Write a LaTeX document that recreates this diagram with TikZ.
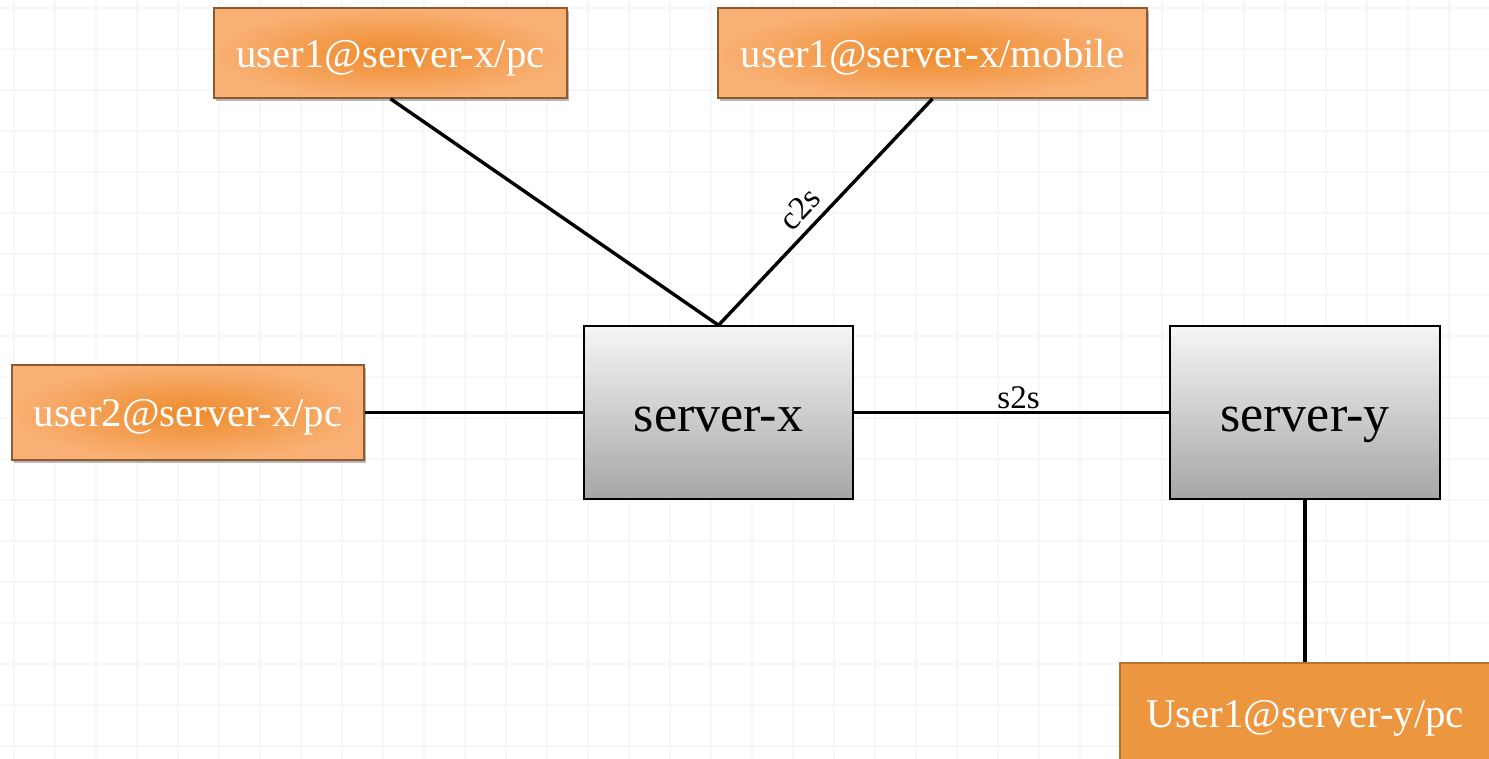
\documentclass[tikz,border=0pt]{standalone}
\usepackage{fontspec}
\setmainfont{Liberation Serif}
\usetikzlibrary{shadows}
\definecolor{gridc}{HTML}{F7F7F7}
\definecolor{orin}{HTML}{EE8B2C}
\definecolor{orout}{HTML}{F9B074}
\definecolor{orborder}{HTML}{8E5A2E}
\definecolor{orsolid}{HTML}{EC963F}
\definecolor{orsolidb}{HTML}{B8722F}
\definecolor{srvtop}{HTML}{F6F6F6}
\definecolor{srvbot}{HTML}{A6A6A6}
\tikzset{
  userbox/.style={draw=orborder, line width=1.6pt, inner sep=0pt,
    inner color=orin, outer color=orout, text=white,
    font=\fontsize{40.8}{48}\selectfont, text depth=0pt,
    drop shadow={shadow xshift=2pt, shadow yshift=-3pt, opacity=0.35, fill=black!80}},
  usersolid/.style={draw=orsolidb, line width=2.5pt, inner sep=0pt,
    fill=orsolid, text=white, font=\fontsize{40.8}{48}\selectfont, text depth=0pt},
  srvbox/.style={draw=black, line width=1.5pt, inner sep=0pt,
    top color=srvtop, bottom color=srvbot, text=black,
    font=\fontsize{52}{60}\selectfont, text height=38pt, text depth=0pt},
  link/.style={draw=black, line width=3.4pt},
  lbl/.style={font=\fontsize{33}{40}\selectfont, text=black, inner sep=4pt}
}
\begin{document}
\begin{tikzpicture}[x=1pt, y=-1pt]
\useasboundingbox (0,0) rectangle (1489,759);
\fill[white] (0,0) rectangle (1489,759);
\clip (0,0) rectangle (1489,759);
\foreach \gx in {14,55,...,1489} \draw[gridc, line width=1.5pt] (\gx,0) -- (\gx,759);
\foreach \gy in {8,49,...,759} \draw[gridc, line width=1.5pt] (0,\gy) -- (1489,\gy);

\node[srvbox, minimum width=269pt, minimum height=173pt] (sx) at (718.5,412.5) {server-x};
\node[srvbox, minimum width=270pt, minimum height=173pt] (sy) at (1305,412.5) {server-y};
\node[userbox, minimum width=353pt, minimum height=90pt, text height=30pt] (ua) at (390.5,53) {user1@server-x/pc};
\node[userbox, minimum width=429pt, minimum height=90pt, text height=30pt] (ub) at (932.5,53) {user1@server-x/mobile};
\node[userbox, minimum width=352pt, minimum height=95pt, text height=27pt] (uc) at (188,412.5) {user2@server-x/pc};
\node[usersolid, minimum width=370pt, minimum height=106pt, text height=22pt] (ud) at (1305,716) {User1@server-y/pc};

\draw[link] (ua.south) -- (sx.north);
\draw[link] (sx.north) -- node[lbl, sloped, above, pos=0.45, inner sep=8pt] {c2s} (ub.south);
\draw[link] (uc.east) -- (sx.west);
\draw[link] (sx.east) -- node[lbl, above, xshift=7pt, yshift=-2pt] {s2s} (sy.west);
\draw[link] (sy.south) -- (ud.north);
\end{tikzpicture}
\end{document}
